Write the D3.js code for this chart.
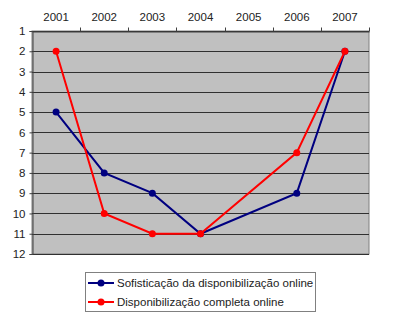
<!DOCTYPE html>
<html lang="pt">
<head>
    <meta charset="UTF-8">
    <title>Disponibilização online</title>
    <script src="https://d3js.org/d3.v7.min.js"></script>
    <style>
        body { margin: 0; padding: 0; background: #fff; }
        svg text { font-family: "Liberation Sans", Arial, sans-serif; font-size: 11px; fill: #222; }
    </style>
</head>
<body>
<div id="chart"></div>
<script>
    // data (2005 has no value, the line just spans it)
    const years = ["2001", "2002", "2003", "2004", "2005", "2006", "2007"];
    const sofisticacao = [5, 8, 9, 11, null, 9, 2];
    const completa = [2, 10, 11, 11, null, 7, 2];
    const rankTicks = d3.range(1, 13);

    const series = [
        { name: "Sofisticação da disponibilização online", values: sofisticacao, color: "#000080" },
        { name: "Disponibilização completa online", values: completa, color: "#ff0000" }
    ];

    const W = 400, H = 326;
    const plot = { left: 32, right: 369, top: 31, bottom: 254 };

    const svg = d3.select("#chart").append("svg")
        .attr("width", W)
        .attr("height", H);

    const x = d3.scaleBand().domain(years).range([plot.left, plot.right]);
    const y = d3.scaleLinear().domain([1, 12]).range([plot.top, plot.bottom]);

    // gray plot area
    svg.append("rect")
        .attr("x", plot.left).attr("y", plot.top)
        .attr("width", plot.right - plot.left).attr("height", plot.bottom - plot.top)
        .attr("fill", "#c0c0c0")
        .attr("stroke", "#808080");

    // horizontal gridlines
    svg.append("g").selectAll("line")
        .data(rankTicks)
        .join("line")
        .attr("x1", plot.left).attr("x2", plot.right)
        .attr("y1", d => Math.round(y(d)) + 0.5).attr("y2", d => Math.round(y(d)) + 0.5)
        .attr("stroke", "#303030");

    // top axis (categories)
    const xAxis = svg.append("g")
        .attr("transform", `translate(0,${plot.top + 0.5})`)
        .call(d3.axisTop(x).tickSize(0).tickPadding(11));
    xAxis.select(".domain").attr("stroke", "#404040");
    // tick marks between categories
    xAxis.selectAll(".sep")
        .data(years.slice(1).concat(["end"]))
        .join("line")
        .attr("class", "sep")
        .attr("x1", (d, i) => Math.round(plot.left + (i + 1) * x.step()) + 0.5)
        .attr("x2", (d, i) => Math.round(plot.left + (i + 1) * x.step()) + 0.5)
        .attr("y1", 0).attr("y2", -4)
        .attr("stroke", "#404040");

    // left axis (rank, reversed)
    const yAxis = svg.append("g")
        .attr("transform", `translate(${plot.left + 0.5},0)`)
        .call(d3.axisLeft(y).tickValues(rankTicks).tickFormat(d3.format("d")).tickSize(3).tickPadding(4));
    yAxis.select(".domain").attr("stroke", "#404040");
    yAxis.selectAll(".tick line").attr("stroke", "#404040");
    svg.selectAll(".tick text")
        .style("font-family", '"Liberation Sans", Arial, sans-serif')
        .style("font-size", "11.5px")
        .attr("fill", "#222");

    const line = d3.line()
        .x(d => x(d.year) + x.bandwidth() / 2)
        .y(d => y(d.v));

    series.forEach(s => {
        const pts = years.map((yr, i) => ({ year: yr, v: s.values[i] })).filter(d => d.v != null);
        svg.append("path")
            .datum(pts)
            .attr("d", line)
            .attr("fill", "none")
            .attr("stroke", s.color)
            .attr("stroke-width", 2);
        svg.append("g").selectAll("circle")
            .data(pts)
            .join("circle")
            .attr("cx", d => x(d.year) + x.bandwidth() / 2)
            .attr("cy", d => y(d.v))
            .attr("r", 3.5)
            .attr("fill", s.color);
    });

    // legend
    const lg = svg.append("g");
    lg.append("rect")
        .attr("x", 85.5).attr("y", 272.5)
        .attr("width", 230).attr("height", 39)
        .attr("fill", "#fff")
        .attr("stroke", "#808080");
    series.forEach((s, i) => {
        const ly = 283 + i * 19;
        lg.append("line")
            .attr("x1", 88).attr("x2", 114)
            .attr("y1", ly).attr("y2", ly)
            .attr("stroke", s.color).attr("stroke-width", 2);
        lg.append("circle")
            .attr("cx", 101).attr("cy", ly).attr("r", 3.5)
            .attr("fill", s.color);
        lg.append("text")
            .attr("x", 117).attr("y", ly)
            .attr("dy", "0.35em")
            .style("font-size", "11.5px")
            .text(s.name);
    });
</script>
</body>
</html>
